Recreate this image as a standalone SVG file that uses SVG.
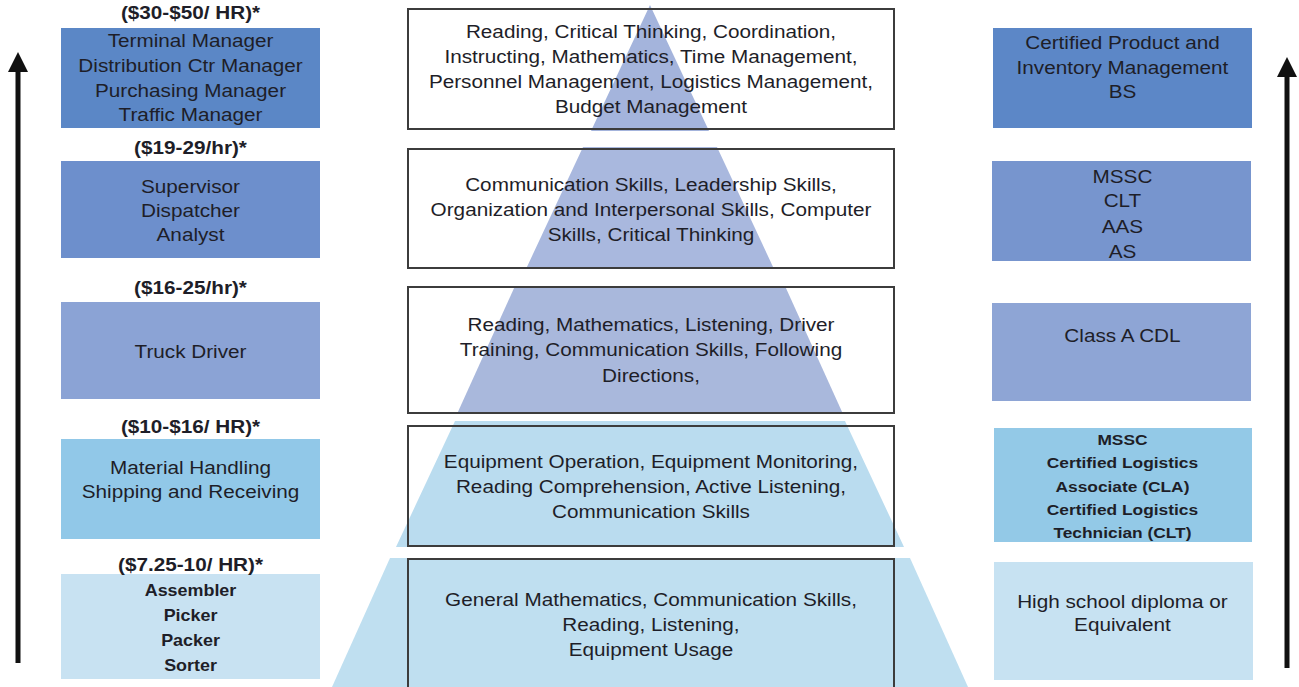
<svg xmlns="http://www.w3.org/2000/svg" width="1299" height="687" viewBox="0 0 1299 687">
<style>
text{font-family:"Liberation Sans",Arial,sans-serif;font-size:18.5px;fill:#1e1e28;text-anchor:middle}
.b{font-weight:bold}
.s{font-size:16px;font-weight:bold}
.s2{font-size:15.5px;font-weight:bold}
.cb{fill:none;stroke:#3c3c3c;stroke-width:2}
.arr{stroke:#111;stroke-width:5;fill:none}
</style>
<defs>
<marker id="ah" markerWidth="4" markerHeight="4" refX="2" refY="2" orient="auto" markerUnits="strokeWidth" viewBox="0 0 4 4">
<path d="M0,0 L4,2 L0,4 z" fill="#111"/>
</marker>
</defs>
<rect width="1299" height="687" fill="#ffffff"/>

<g id="pyramid">
<polygon points="650,5 709,131 591,131" fill="#a4b4dc"/>
<polygon points="583,147 717,147 774,269 526,269" fill="#a9b8de"/>
<polygon points="515,286 785,286 843,414 457,414" fill="#a9b8dc"/>
<polygon points="455,421 845,421 904,547 396,547" fill="#badcef"/>
<polygon points="390,558 910,558 968,687 332,687" fill="#bfdff0"/>
</g>

<g id="connectors">
<line class="arr" x1="18" y1="663" x2="18" y2="62" marker-end="url(#ah)"/>
<line class="arr" x1="1287" y1="668" x2="1287" y2="67" marker-end="url(#ah)"/>
</g>

<g id="left-1">
<rect x="61" y="28" width="259" height="100" fill="#5b87c6"/>
<g transform="scale(1.12 1)">
<text class="b" x="170.1" y="19.5">($30-$50/ HR)*</text>
<text x="170.1" y="47">Terminal Manager</text>
<text x="170.1" y="72">Distribution Ctr Manager</text>
<text x="170.1" y="97">Purchasing Manager</text>
<text x="170.1" y="121">Traffic Manager</text>
</g>
</g>
<g id="left-2">
<rect x="61" y="161" width="259" height="97" fill="#6d8fcc"/>
<g transform="scale(1.12 1)">
<text class="b" x="170.1" y="154.5">($19-29/hr)*</text>
<text x="170.1" y="193">Supervisor</text>
<text x="170.1" y="217">Dispatcher</text>
<text x="170.1" y="241">Analyst</text>
</g>
</g>
<g id="left-3">
<rect x="61" y="302" width="259" height="97" fill="#8ba3d5"/>
<g transform="scale(1.12 1)">
<text class="b" x="170.1" y="294.5">($16-25/hr)*</text>
<text x="170.1" y="358">Truck Driver</text>
</g>
</g>
<g id="left-4">
<rect x="61" y="439" width="259" height="100" fill="#91c8e8"/>
<g transform="scale(1.12 1)">
<text class="b" x="170.1" y="433">($10-$16/ HR)*</text>
<text x="170.1" y="474">Material Handling</text>
<text x="170.1" y="498">Shipping and Receiving</text>
</g>
</g>
<g id="left-5">
<rect x="61" y="574" width="259" height="105" fill="#c8e2f2"/>
<g transform="scale(1.12 1)">
<text class="b" x="170.1" y="571">($7.25-10/ HR)*</text>
<text class="s" x="170.1" y="596">Assembler</text>
<text class="s" x="170.1" y="621">Picker</text>
<text class="s" x="170.1" y="646">Packer</text>
<text class="s" x="170.1" y="671">Sorter</text>
</g>
</g>

<g id="center-1">
<rect class="cb" x="408" y="9" width="486" height="120"/>
<g transform="scale(1.12 1)">
<text x="581.25" y="38.5">Reading, Critical Thinking, Coordination,</text>
<text x="581.25" y="63.5">Instructing, Mathematics, Time Management,</text>
<text x="581.25" y="88.5">Personnel Management, Logistics Management,</text>
<text x="581.25" y="113.5">Budget Management</text>
</g>
</g>
<g id="center-2">
<rect class="cb" x="408" y="149" width="486" height="119"/>
<g transform="scale(1.12 1)">
<text x="581.25" y="191.5">Communication Skills, Leadership Skills,</text>
<text x="581.25" y="216.5">Organization and Interpersonal Skills, Computer</text>
<text x="581.25" y="241.5">Skills, Critical Thinking</text>
</g>
</g>
<g id="center-3">
<rect class="cb" x="408" y="287" width="486" height="126"/>
<g transform="scale(1.12 1)">
<text x="581.25" y="331.5">Reading, Mathematics, Listening, Driver</text>
<text x="581.25" y="356.5">Training, Communication Skills, Following</text>
<text x="581.25" y="382">Directions,</text>
</g>
</g>
<g id="center-4">
<rect class="cb" x="408" y="426" width="486" height="120"/>
<g transform="scale(1.12 1)">
<text x="581.25" y="468.5">Equipment Operation, Equipment Monitoring,</text>
<text x="581.25" y="493.5">Reading Comprehension, Active Listening,</text>
<text x="581.25" y="518.5">Communication Skills</text>
</g>
</g>
<g id="center-5">
<rect class="cb" x="408" y="559" width="486" height="135"/>
<g transform="scale(1.12 1)">
<text x="581.25" y="606.5">General Mathematics, Communication Skills,</text>
<text x="581.25" y="631.5">Reading, Listening,</text>
<text x="581.25" y="656.5">Equipment Usage</text>
</g>
</g>

<g id="right-1">
<rect x="993" y="28" width="259" height="100" fill="#5c87c7"/>
<g transform="scale(1.12 1)">
<text x="1002.2" y="49.5">Certified Product and</text>
<text x="1002.2" y="74.5">Inventory Management</text>
<text x="1002.2" y="98.5">BS</text>
</g>
</g>
<g id="right-2">
<rect x="992" y="161" width="259" height="100" fill="#7795ce"/>
<g transform="scale(1.12 1)">
<text x="1002.2" y="183.5">MSSC</text>
<text x="1002.2" y="207.5">CLT</text>
<text x="1002.2" y="233.5">AAS</text>
<text x="1002.2" y="258.5">AS</text>
</g>
</g>
<g id="right-3">
<rect x="992" y="303" width="259" height="98" fill="#8ea5d5"/>
<g transform="scale(1.12 1)">
<text x="1002.2" y="342.5">Class A CDL</text>
</g>
</g>
<g id="right-4">
<rect x="994" y="428" width="258" height="114" fill="#93c9e7"/>
<g transform="scale(1.12 1)">
<text class="s2" x="1002.2" y="445.5">MSSC</text>
<text class="s2" x="1002.2" y="468.5">Certified Logistics</text>
<text class="s2" x="1002.2" y="492.5">Associate (CLA)</text>
<text class="s2" x="1002.2" y="515.5">Certified Logistics</text>
<text class="s2" x="1002.2" y="538.5">Technician (CLT)</text>
</g>
</g>
<g id="right-5">
<rect x="994" y="562" width="259" height="118" fill="#c7e2f2"/>
<g transform="scale(1.12 1)">
<text x="1002.2" y="608.5">High school diploma or</text>
<text x="1002.2" y="631.5">Equivalent</text>
</g>
</g>
</svg>
